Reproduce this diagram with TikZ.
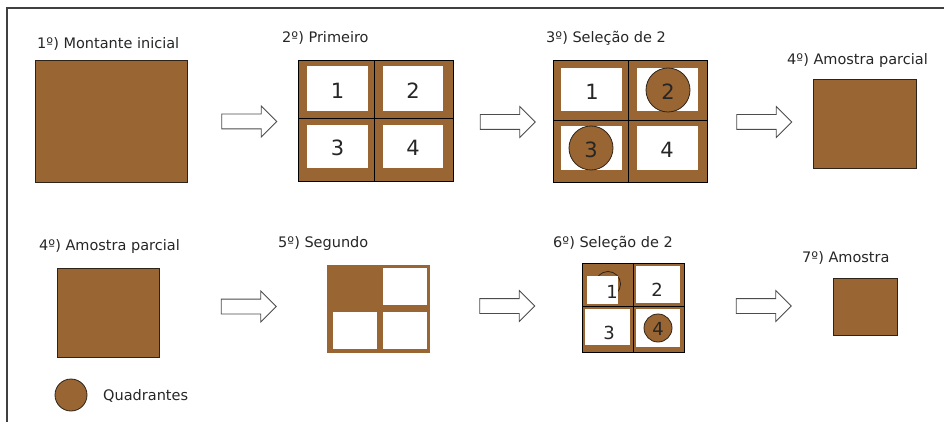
\documentclass[tikz,border=0pt]{standalone}
\usepackage{fontspec}
\setmainfont{DejaVu Sans}
\usetikzlibrary{shapes.arrows}
\definecolor{soil}{RGB}{153,102,51}
\definecolor{soiledge}{RGB}{45,35,25}
\tikzset{
  steplabel/.style={anchor=base west, inner sep=0pt, text=black!85,
    font=\fontsize{14.5}{17}\selectfont},
  bignum/.style={inner sep=0pt, text=black!85, font=\fontsize{21}{24}\selectfont},
  smallnum/.style={inner sep=0pt, text=black!85, font=\fontsize{18}{21}\selectfont},
  soilbox/.style={fill=soil, draw=soiledge, line width=1pt},
  cell/.style={fill=white},
  gridline/.style={draw=black, line width=1pt},
  quadrant/.style={fill=soil, draw=soiledge, line width=0.8pt},
  flow/.style={single arrow, draw=black!70, fill=white, line width=0.8pt,
    inner sep=7pt, minimum height=55pt, single arrow head extend=8pt},
}
\begin{document}
\begin{tikzpicture}[x=1pt,y=-1pt]
\useasboundingbox (0,0) rectangle (944,422);

% page frame (top and left edges)
\draw[black!75, line width=1.2pt] (944,8) -- (7,8) -- (7,422);

% ---------------- first row ----------------
\node[steplabel] (t1) at (37,49) {1º) Montante inicial};
\fill[soilbox] (35,61) rectangle (187,183);

\node[flow] (a1) at (245.5,121.5) {};

\node[steplabel] (t2) at (282,43) {2º) Primeiro};
\fill[soil] (298,61) rectangle (453,182);
\fill[cell] (307,66) rectangle (368,111);
\fill[cell] (383,66) rectangle (443,111);
\fill[cell] (307,125) rectangle (368,168);
\fill[cell] (383,125) rectangle (443,168);
\draw[gridline] (298,61) rectangle (453,182);
\draw[gridline] (374,61) -- (374,182) (298,119) -- (453,119);
\node[bignum] (g2n1) at (337.5,90.5) {1};
\node[bignum] (g2n2) at (413,90.5) {2};
\node[bignum] (g2n3) at (337.5,148) {3};
\node[bignum] (g2n4) at (413,148) {4};

\node[flow] (a2) at (504,122) {};

\node[steplabel] (t3) at (546,43) {3º) Seleção de 2};
\fill[soil] (553,61) rectangle (707,183);
\fill[cell] (561,68) rectangle (622,111);
\fill[cell] (637,68) rectangle (698,111);
\fill[cell] (561,126) rectangle (622,170);
\fill[cell] (637,126) rectangle (698,170);
\draw[gridline] (553,61) rectangle (707,183);
\draw[gridline] (628,61) -- (628,183) (553,121) -- (707,121);
\draw[quadrant] (668,90) circle (22);
\draw[quadrant] (591,148) circle (22);
\node[bignum] (g3n1) at (592,92) {1};
\node[bignum] (g3n2) at (668,92) {2};
\node[bignum] (g3n3) at (591,150) {3};
\node[bignum] (g3n4) at (667,150) {4};

\node[flow] (a3) at (760.5,122) {};

\node[steplabel] (t4) at (787,65) {4º) Amostra parcial};
\fill[soilbox] (813,80) rectangle (916,169);

% ---------------- second row ----------------
\node[steplabel] (t5) at (39,250) {4º) Amostra parcial};
\fill[soilbox] (57,268) rectangle (159,357);

\node[flow] (a4) at (245,306.5) {};

\node[steplabel] (t6) at (278,247) {5º) Segundo};
\fill[soil] (327,265) rectangle (430,353);
\fill[cell] (383,268) rectangle (427,305);
\fill[cell] (333,312) rectangle (377,349);
\fill[cell] (383,312) rectangle (427,349);

\node[flow] (a5) at (503.5,306) {};

\node[steplabel] (t7) at (553,247) {6º) Seleção de 2};
\fill[soil] (582,263) rectangle (684,352);
\draw[quadrant] (608,284) circle (12.5);
\fill[cell] (587,276) rectangle (618,304);
\fill[cell] (636,266) rectangle (680,303);
\fill[cell] (585,309) rectangle (630,345);
\fill[cell] (636,309) rectangle (680,347);
\draw[quadrant] (658,328) circle (14);
\draw[gridline] (582,263) rectangle (684,352);
\draw[gridline] (633,263) -- (633,352) (582,306) -- (684,306);
\node[smallnum] (g6n1) at (612,292) {1};
\node[smallnum] (g6n2) at (657,290) {2};
\node[smallnum] (g6n3) at (609,333) {3};
\node[smallnum] (g6n4) at (658,329) {4};

\node[flow] (a6) at (760,306) {};

\node[steplabel] (t8) at (802,262) {7º) Amostra};
\fill[soilbox] (833,278) rectangle (897,335);

% legend
\draw[quadrant] (71,395) circle (16);
\node[steplabel] (leg) at (103,400) {Quadrantes};
\end{tikzpicture}
\end{document}
